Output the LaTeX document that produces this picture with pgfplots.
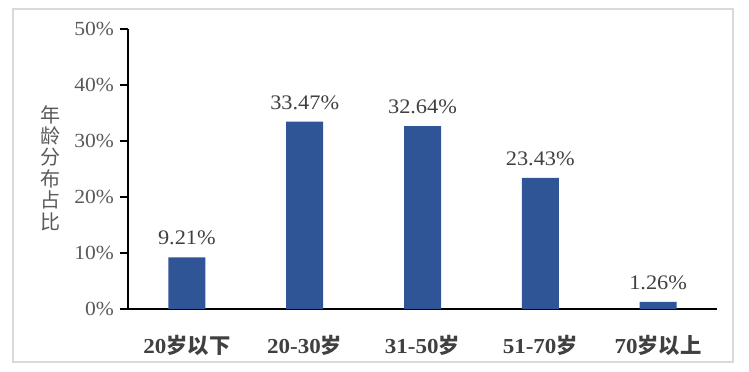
\documentclass[border=0pt]{standalone}
\usepackage{pgfplots}
\pgfplotsset{compat=1.18}
\usepackage{fontspec}
\setmainfont{Liberation Serif}[FakeStretch=1.08]
\newfontfamily\cjk{Noto Sans CJK SC}
\definecolor{barblue}{HTML}{2F5597}
\definecolor{tickgray}{HTML}{595959}
\definecolor{labgray}{HTML}{404040}
\definecolor{framegray}{HTML}{D9D9D9}
\begin{document}
\begin{tikzpicture}
\path[use as bounding box] (-96pt,-46.5pt) rectangle (465.75pt,231.75pt);
\draw[framegray, line width=1.1pt] (-86.25pt,-39.75pt) rectangle (453.75pt,225pt);
\begin{axis}[
  at={(0,0)}, anchor=south west,
  scale only axis,
  width=441.75pt, height=210pt,
  xmin=-0.5, xmax=4.5,
  ymin=0, ymax=50,
  axis x line*=bottom,
  axis y line*=left,
  axis line style={black, line width=1pt},
  ybar, bar width=27.75pt,
  xtick={0,1,2,3,4},
  xticklabels={{\bfseries 20}{\cjk\bfseries 岁以下},{\bfseries 20-30}{\cjk\bfseries 岁},{\bfseries 31-50}{\cjk\bfseries 岁},{\bfseries 51-70}{\cjk\bfseries 岁},{\bfseries 70}{\cjk\bfseries 岁以上}},
  x tick style={draw=none},
  xticklabel style={font=\fontsize{16}{17}\selectfont, text=labgray, yshift=-10pt},
  ytick={0,10,20,30,40,50},
  yticklabel={\pgfmathprintnumber{\tick}\%},
  y tick style={black, line width=1pt},
  tick align=outside,
  major tick length=6pt,
  yticklabel style={font=\fontsize{15}{16}\selectfont, text=tickgray, xshift=-1pt},
  /pgf/number format/assume math mode=true,
  nodes near coords={\pgfmathprintnumber[fixed,fixed zerofill,precision=2]{\pgfplotspointmeta}\%},
  every node near coord/.append style={font=\fontsize{15.5}{17}\selectfont, text=labgray, inner sep=0pt, yshift=9pt},
  ylabel={年\\龄\\分\\布\\占\\比},
  ylabel style={rotate=-90, align=center, font=\cjk\fontsize{15}{16.1}\selectfont, text=tickgray, at={(axis description cs:-0.1324,0.5036)}, anchor=center},
  clip=false,
]
\addplot[fill=barblue, draw=none] coordinates {(0,9.21) (1,33.47) (2,32.64) (3,23.43) (4,1.26)};
\end{axis}
\end{tikzpicture}
\end{document}
